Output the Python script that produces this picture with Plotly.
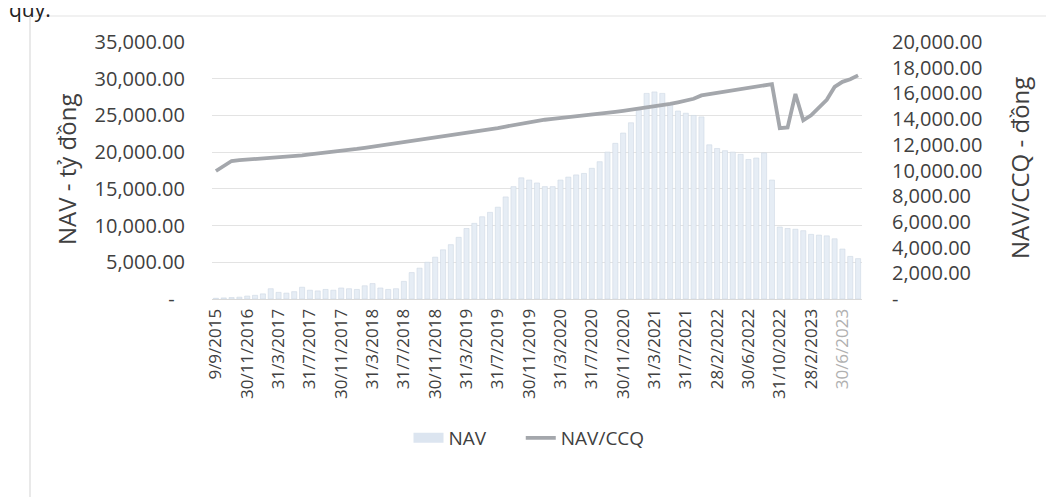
import plotly.graph_objects as go

# ---------------- data ----------------
categories = [
    "9/9/2015", "31/12/2015", "30/6/2016", "30/9/2016",
    "30/11/2016", "31/12/2016", "31/1/2017", "28/2/2017",
    "31/3/2017", "30/4/2017", "31/5/2017", "30/6/2017",
    "31/7/2017", "31/8/2017", "30/9/2017", "31/10/2017",
    "30/11/2017", "31/12/2017", "31/1/2018", "28/2/2018",
    "31/3/2018", "30/4/2018", "31/5/2018", "30/6/2018",
    "31/7/2018", "31/8/2018", "30/9/2018", "31/10/2018",
    "30/11/2018", "31/12/2018", "31/1/2019", "28/2/2019",
    "31/3/2019", "30/4/2019", "31/5/2019", "30/6/2019",
    "31/7/2019", "31/8/2019", "30/9/2019", "31/10/2019",
    "30/11/2019", "31/12/2019", "31/1/2020", "29/2/2020",
    "31/3/2020", "30/4/2020", "31/5/2020", "30/6/2020",
    "31/7/2020", "31/8/2020", "30/9/2020", "31/10/2020",
    "30/11/2020", "31/12/2020", "31/1/2021", "28/2/2021",
    "31/3/2021", "30/4/2021", "31/5/2021", "30/6/2021",
    "31/7/2021", "31/8/2021", "30/9/2021", "31/12/2021",
    "28/2/2022", "31/3/2022", "30/4/2022", "31/5/2022",
    "30/6/2022", "31/7/2022", "31/8/2022", "30/9/2022",
    "31/10/2022", "30/11/2022", "31/12/2022", "31/1/2023",
    "28/2/2023", "31/3/2023", "30/4/2023", "31/5/2023",
    "30/6/2023", "31/7/2023", "31/8/2023",
]

nav = [
    100, 150, 200, 250, 400, 500, 700, 1400,
    900, 800, 1000, 1600, 1200, 1100, 1300, 1200,
    1500, 1400, 1300, 1800, 2100, 1500, 1300, 1400,
    2400, 3600, 4200, 5000, 5700, 6700, 7400, 8400,
    9600, 10300, 11200, 11800, 12500, 13900, 15300, 16500,
    16200, 15800, 15300, 15300, 16200, 16600, 16900, 17100,
    17800, 18700, 20000, 21200, 22600, 24000, 25700, 28000,
    28200, 28000, 26500, 25600, 25300, 25000, 24800, 21000,
    20500, 20200, 20000, 19700, 19000, 19200, 19900, 16200,
    9800, 9600, 9500, 9300, 8800, 8700, 8600, 8200,
    6800, 5800, 5500,
]

nav_ccq = [
    9960, 10350, 10740, 10800, 10840, 10880, 10920, 10960,
    11000, 11060, 11120, 11180, 11250, 11310, 11370, 11440,
    11500, 11590, 11680, 11770, 11860, 11950, 12040, 12130,
    12220, 12300, 12380, 12460, 12540, 12620, 12700, 12790,
    12870, 12960, 13070, 13190, 13300, 13420, 13540, 13650,
    13770, 13880, 13950, 14020, 14080, 14150, 14220, 14290,
    14350, 14400, 14480, 14560, 14640, 14720, 14800, 14880,
    14960, 15050, 15180, 15310, 15440, 15580, 15840, 15940,
    16030, 16130, 16230, 16330, 16420, 16520, 16620, 16720,
    13300, 13350, 15950, 13900, 14300, 14900, 15500, 16500,
    16900, 17100, 17400,
]

tick_labels = [
    "9/9/2015", "30/11/2016", "31/3/2017", "31/7/2017", "30/11/2017",
    "31/3/2018", "31/7/2018", "30/11/2018", "31/3/2019", "31/7/2019",
    "30/11/2019", "31/3/2020", "31/7/2020", "30/11/2020", "31/3/2021",
    "31/7/2021", "28/2/2022", "30/6/2022", "31/10/2022", "28/2/2023",
    "30/6/2023",
]

left_ticks = [0, 5000, 10000, 15000, 20000, 25000, 30000, 35000]
right_ticks = [0, 2000, 4000, 6000, 8000, 10000, 12000, 14000, 16000, 18000, 20000]

# ---------------- figure ----------------
FONT = "Open Sans"
TXT = "#404040"

def fmt(v, pad):
    return ("-" + pad) if v == 0 else f"{v:,.2f}"

tick_text = [
    (f'<span style="color:#b0b0b0">{t}</span>' if t == "30/6/2023" else t)
    for t in tick_labels
]

fig = go.Figure()
fig.add_trace(go.Bar(
    x=categories, y=nav, name="NAV", showlegend=False,
    marker=dict(color="#e6edf5", line=dict(color="#cfd8e4", width=0.6)),
    yaxis="y",
))
# legend-only entry giving the wide rectangular NAV swatch
fig.add_trace(go.Scatter(
    x=[None], y=[None], name="NAV" + "\u00a0" * 6, mode="lines",
    line=dict(color="#dce5f0", width=12), yaxis="y",
))
fig.add_trace(go.Scatter(
    x=categories, y=nav_ccq, name="NAV/CCQ", mode="lines",
    line=dict(color="#a4a7ac", width=3.8),
    yaxis="y2",
))

# plot box as seen in the reference (page pixels); page body adds an 8px offset
L, R, T, B = 212, 862, 42, 299
W, H = 1054, 497
OFF = 8

def px(x):
    return (x - L) / (R - L)

def py(y):
    return (B - y) / (B - T)

fig.update_layout(
    width=W, height=H,
    margin=dict(l=L - OFF, r=W - (R - OFF), t=T - OFF, b=H - (B - OFF), pad=0,
                autoexpand=False),
    paper_bgcolor="white", plot_bgcolor="white",
    font=dict(family=FONT, color=TXT, size=18),
    bargap=0.35,
    showlegend=True,
    legend=dict(
        orientation="h", x=px(529), xanchor="center", y=py(438), yanchor="middle",
        font=dict(family=FONT, size=19, color=TXT),
        traceorder="normal",
    ),
    xaxis=dict(
        type="category",
        tickmode="array", tickvals=tick_labels, ticktext=tick_text,
        tickangle=-90, tickfont=dict(family=FONT, size=17, color=TXT),
        showgrid=False, showline=True, linecolor="#d9d9d9", linewidth=1,
        ticks="", ticklabelstandoff=2,
    ),
    yaxis=dict(
        range=[0, 35000],
        tickmode="array", tickvals=left_ticks,
        ticktext=[fmt(v, "\u00a0\u00a0") for v in left_ticks],
        tickfont=dict(family=FONT, size=20, color=TXT),
        showgrid=True, gridcolor="#e3e3e3", gridwidth=1,
        zeroline=False, showline=False, ticks="", ticklabelstandoff=26,
    ),
    yaxis2=dict(
        range=[0, 20000], overlaying="y", side="right",
        tickmode="array", tickvals=right_ticks,
        ticktext=[fmt(v, "") for v in right_ticks],
        tickfont=dict(family=FONT, size=20, color=TXT),
        showgrid=False, zeroline=False, showline=False, ticks="",
        ticklabelstandoff=29,
    ),
    annotations=[
        dict(text="NAV - tỷ đồng", xref="paper", yref="paper",
             x=px(66), y=py(170),
             textangle=-90, showarrow=False, xanchor="center", yanchor="middle",
             font=dict(family=FONT, size=24, color=TXT)),
        dict(text="NAV/CCQ - đồng", xref="paper", yref="paper",
             x=px(1019), y=py(168),
             textangle=-90, showarrow=False, xanchor="center", yanchor="middle",
             font=dict(family=FONT, size=24, color=TXT)),
        dict(text="quỹ.", xref="paper", yref="paper",
             x=px(7), y=py(25),
             showarrow=False, xanchor="left", yanchor="bottom",
             font=dict(family=FONT, size=21, color="#222222")),
    ],
    shapes=[
        dict(type="line", xref="paper", yref="paper",
             x0=px(30), x1=px(30), y0=py(16), y1=py(505),
             line=dict(color="#e2e2e2", width=1.5)),
        dict(type="line", xref="paper", yref="paper",
             x0=px(30), x1=px(1060), y0=py(16), y1=py(16),
             line=dict(color="#ececec", width=1.5)),
    ],
)

fig.write_html("out.html")
